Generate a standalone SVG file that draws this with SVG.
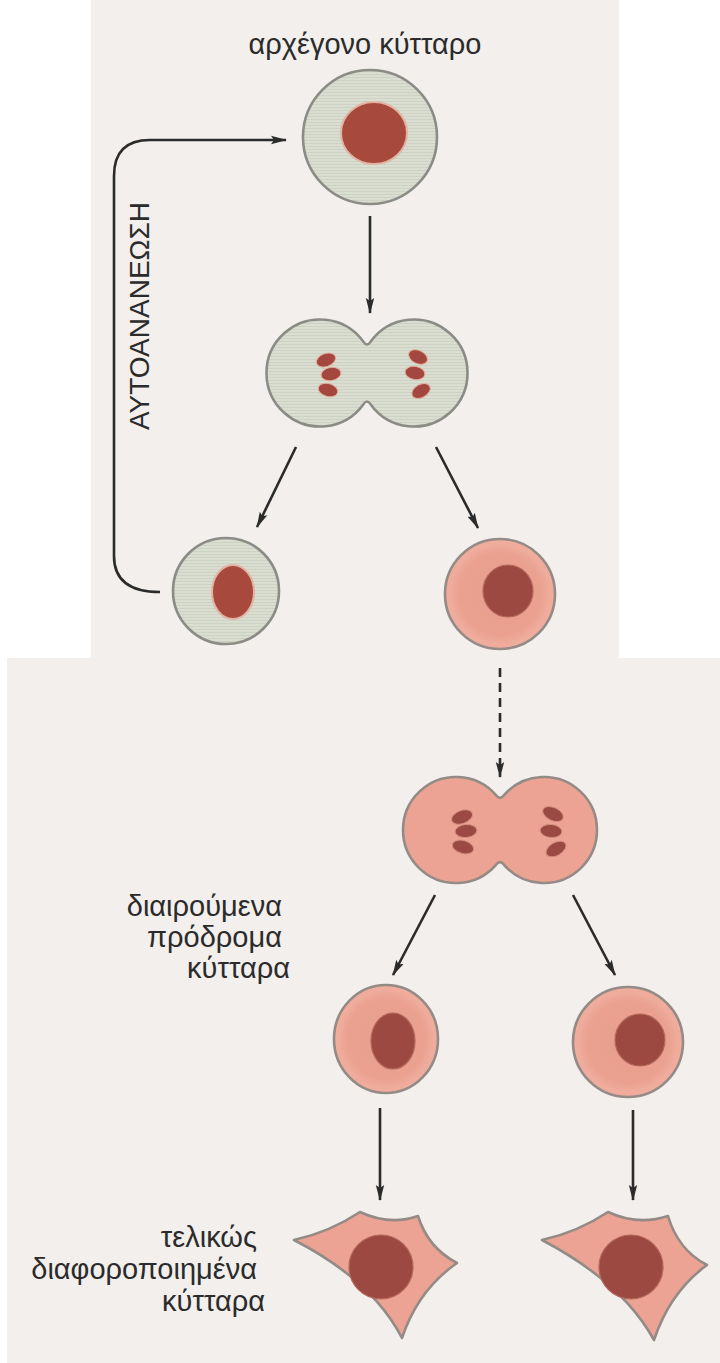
<svg xmlns="http://www.w3.org/2000/svg" width="720" height="1363" viewBox="0 0 720 1363">
  <style>
    .label { font-family: "Liberation Sans", Arial, sans-serif; font-size: 29px; fill: #2b2b2b; }
    .arrow { fill: none; stroke: #2b2b2b; stroke-width: 2.6; marker-end: url(#head); }
    .dashed { stroke-dasharray: 9 6; }
    .stem { fill: url(#hatch); stroke: #8c8c86; stroke-width: 2.6; }
    .prog { fill: url(#pinkfill); stroke: #948a86; stroke-width: 2.6; }
    .star { fill: #eca393; stroke: #948a86; stroke-width: 2.6; stroke-linejoin: round; }
    .nuc-stem { fill: #a8493d; stroke: #e2b3a2; stroke-width: 2; }
    .nuc-prog { fill: #9b4941; stroke: #b4675b; stroke-width: 1.2; }
    .chrom { fill: #a4473e; stroke: #e4ad9c; stroke-width: 1; }
    .chrom-p { fill: #9a4a43; stroke: #d58f80; stroke-width: 1; }
  </style>
  <defs>
    <marker id="head" markerUnits="userSpaceOnUse" markerWidth="16" markerHeight="10" refX="15" refY="5" orient="auto">
      <path d="M0,0.8 L16,5 L0,9.2 L3,5 z" fill="#2b2b2b"/>
    </marker>
    <pattern id="hatch" patternUnits="userSpaceOnUse" width="6" height="3">
      <rect width="6" height="3" fill="#d9ded1"/>
      <rect y="2" width="6" height="1" fill="#cdd2c5"/>
    </pattern>
    <radialGradient id="pinkfill" cx="0.5" cy="0.5" r="0.5">
      <stop offset="0" stop-color="#e99e8d"/>
      <stop offset="0.75" stop-color="#eaa190"/>
      <stop offset="0.9" stop-color="#efab9b"/>
      <stop offset="1" stop-color="#f0ae9e"/>
    </radialGradient>
  </defs>

  <!-- backdrop: white page with the two pale panels -->
  <rect width="720" height="1363" fill="#ffffff"/>
  <rect x="91" y="0" width="528" height="660" fill="#f2efec"/>
  <rect x="7" y="658" width="713" height="705" fill="#f2efec"/>

  <!-- connectors -->
  <g id="connectors">
    <path class="arrow" d="M160,592 Q114,592 114,556 L114,176 Q114,140 150,140 L286,140"/>
    <line class="arrow" x1="370" y1="216" x2="370" y2="313"/>
    <line class="arrow" x1="296" y1="447" x2="257" y2="527"/>
    <line class="arrow" x1="436" y1="447" x2="478" y2="528"/>
    <line class="arrow dashed" x1="500" y1="668" x2="500" y2="777"/>
    <line class="arrow" x1="435" y1="895" x2="393" y2="975"/>
    <line class="arrow" x1="573" y1="895" x2="615" y2="975"/>
    <line class="arrow" x1="380" y1="1108" x2="380" y2="1200"/>
    <line class="arrow" x1="633" y1="1110" x2="633" y2="1200"/>
  </g>

  <!-- stem cell -->
  <g id="stem-cell">
    <text class="label" x="365" y="54" text-anchor="middle">αρχέγονο κύτταρο</text>
    <circle class="stem" cx="370" cy="137" r="67"/>
    <ellipse class="nuc-stem" cx="374" cy="133" rx="33" ry="31"/>
  </g>

  <!-- self-renewal label -->
  <g id="self-renewal">
    <text class="label" style="font-size:28px" transform="translate(149,316) rotate(-90)" text-anchor="middle">ΑΥΤΟΑΝΑΝΕΩΣΗ</text>
  </g>

  <!-- stem cell dividing: two overlapping lobes with a rounded cleft -->
  <g id="stem-division">
    <path class="stem" d="M363.3,341.6 A53.5,53.5 0 1 0 363.3,404.4 Q367,398.6 370.7,404.4 A53.5,53.5 0 1 0 370.7,341.6 Q367,347.4 363.3,341.6 Z"/>
    <ellipse class="chrom" cx="326" cy="360" rx="10" ry="6.5" transform="rotate(-20 326 360)"/>
    <ellipse class="chrom" cx="331" cy="374" rx="10" ry="6.5" transform="rotate(-10 331 374)"/>
    <ellipse class="chrom" cx="328" cy="390" rx="10" ry="6.5" transform="rotate(15 328 390)"/>
    <ellipse class="chrom" cx="418" cy="357" rx="10" ry="6.5" transform="rotate(25 418 357)"/>
    <ellipse class="chrom" cx="415" cy="373" rx="10" ry="6.5" transform="rotate(10 415 373)"/>
    <ellipse class="chrom" cx="421" cy="391" rx="10" ry="6.5" transform="rotate(-30 421 391)"/>
  </g>

  <!-- daughter stem cell -->
  <g id="daughter-stem">
    <circle class="stem" cx="226" cy="591" r="53"/>
    <ellipse class="nuc-stem" cx="233" cy="592" rx="21" ry="27"/>
  </g>

  <!-- committed progenitor -->
  <g id="progenitor">
    <circle class="prog" cx="500" cy="594" r="55"/>
    <ellipse class="nuc-prog" cx="508" cy="591" rx="25" ry="26"/>
  </g>

  <!-- progenitor dividing -->
  <g id="progenitor-division">
    <path class="star" d="M496,795.2 A53,53 0 1 0 496,864.8 Q500,859.5 504,864.8 A53,53 0 1 0 504,795.2 Q500,800.5 496,795.2 Z"/>
    <ellipse class="chrom-p" cx="462" cy="817" rx="11" ry="6.5" transform="rotate(-20 462 817)"/>
    <ellipse class="chrom-p" cx="466" cy="831" rx="11" ry="6.5" transform="rotate(-5 466 831)"/>
    <ellipse class="chrom-p" cx="463" cy="847" rx="11" ry="6.5" transform="rotate(15 463 847)"/>
    <ellipse class="chrom-p" cx="553" cy="814" rx="11" ry="6.5" transform="rotate(25 553 814)"/>
    <ellipse class="chrom-p" cx="551" cy="831" rx="11" ry="6.5" transform="rotate(5 551 831)"/>
    <ellipse class="chrom-p" cx="556" cy="849" rx="11" ry="6.5" transform="rotate(-30 556 849)"/>
  </g>

  <!-- dividing progenitors -->
  <g id="progenitors-label">
    <text class="label" text-anchor="end">
      <tspan x="290" y="916">διαιρούμενα</tspan>
      <tspan x="290" y="947">πρόδρομα</tspan>
      <tspan x="290" y="978">κύτταρα</tspan>
    </text>
  </g>
  <g id="progenitor-left">
    <ellipse class="prog" cx="386" cy="1039" rx="52" ry="54"/>
    <ellipse class="nuc-prog" cx="393" cy="1041" rx="22" ry="28"/>
  </g>
  <g id="progenitor-right">
    <circle class="prog" cx="628" cy="1042" r="55"/>
    <ellipse class="nuc-prog" cx="640" cy="1040" rx="25" ry="26"/>
  </g>

  <!-- terminally differentiated cells -->
  <g id="differentiated-label">
    <text class="label" text-anchor="end">
      <tspan x="265" y="1247">τελικώς</tspan>
      <tspan x="265" y="1279">διαφοροποιημένα</tspan>
      <tspan x="265" y="1311">κύτταρα</tspan>
    </text>
  </g>
  <g id="differentiated-left">
    <path class="star" d="M294,1240 Q330,1232 360,1212 Q390,1226 418,1216 Q428,1248 457,1263 Q418,1290 402,1338 Q372,1280 294,1240 Z"/>
    <circle class="nuc-prog" cx="381" cy="1267" r="32"/>
  </g>
  <g id="differentiated-right">
    <path class="star" d="M542,1240 Q578,1232 608,1212 Q638,1226 668,1216 Q678,1250 707,1265 Q670,1292 654,1340 Q622,1282 542,1240 Z"/>
    <circle class="nuc-prog" cx="631" cy="1267" r="32"/>
  </g>
</svg>
